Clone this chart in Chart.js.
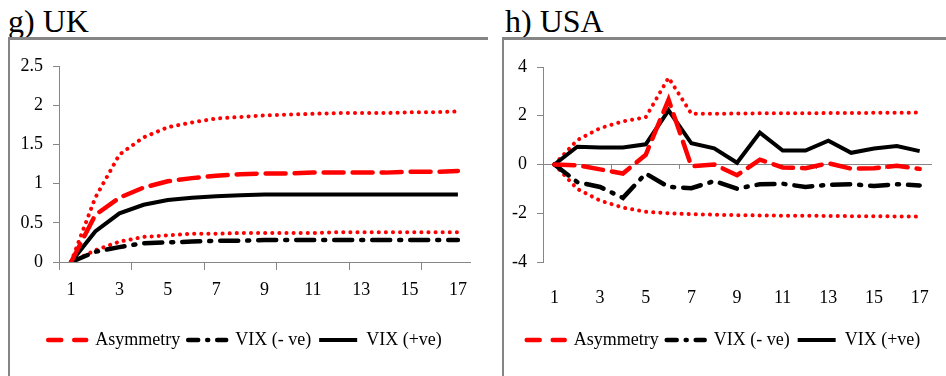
<!DOCTYPE html>
<html>
<head>
<meta charset="utf-8">
<script src="https://cdn.jsdelivr.net/npm/chart.js@4.4.0/dist/chart.umd.min.js"></script>
<style>
    body { margin: 0; width: 946px; height: 376px; background: #fff; overflow: hidden; position: relative; font-family: "Liberation Serif", serif; }
    .title { position: absolute; top: 2px; font-size: 32px; line-height: 38px; color: #000; white-space: nowrap; }
    .rule { position: absolute; background: #858585; z-index: 2; }
    canvas { position: absolute; top: 40px; }
</style>
</head>
<body>
<div class="title" style="left:8px">g) UK</div>
<div class="title" style="left:505px">h) USA</div>
<div class="rule" style="left:8px; top:37px; width:480px; height:3px"></div>
<div class="rule" style="left:8px; top:37px; width:2px; height:339px"></div>
<div class="rule" style="left:502px; top:37px; width:444px; height:3px"></div>
<div class="rule" style="left:502px; top:37px; width:2px; height:339px"></div>
<canvas id="ukChart" width="490" height="336" style="left:0"></canvas>
<canvas id="usaChart" width="456" height="336" style="left:490px"></canvas>
<script>
var periods = ['1', '2', '3', '4', '5', '6', '7', '8', '9', '10', '11', '12', '13', '14', '15', '16', '17'];
var seriesNames = ['Asymmetry', 'VIX (- ve)', 'VIX (+ve)', 'Upper band', 'Lower band'];

// g) UK
var ukAsymmetry = [0, 0.60, 0.82, 0.95, 1.03, 1.07, 1.10, 1.12, 1.13, 1.13, 1.14, 1.14, 1.14, 1.14, 1.15, 1.15, 1.16];
var ukVixNeg = [0, 0.13, 0.19, 0.24, 0.25, 0.26, 0.27, 0.27, 0.28, 0.28, 0.28, 0.28, 0.28, 0.28, 0.28, 0.28, 0.28];
var ukVixPos = [0, 0.39, 0.62, 0.73, 0.79, 0.82, 0.84, 0.85, 0.86, 0.86, 0.86, 0.86, 0.86, 0.86, 0.86, 0.86, 0.86];
var ukUpper = [0, 0.82, 1.37, 1.59, 1.72, 1.78, 1.83, 1.85, 1.87, 1.88, 1.89, 1.90, 1.90, 1.90, 1.91, 1.91, 1.92];
var ukLower = [0, 0.15, 0.26, 0.32, 0.34, 0.36, 0.36, 0.37, 0.37, 0.37, 0.37, 0.38, 0.38, 0.38, 0.38, 0.38, 0.38];

// h) USA
var usaAsymmetry = [0, -0.03, -0.2, -0.37, 0.4, 2.66, -0.07, 0, -0.44, 0.2, -0.12, -0.15, 0.05, -0.17, -0.15, -0.05, -0.18];
var usaVixNeg = [0, -0.72, -0.92, -1.37, -0.37, -0.92, -0.97, -0.68, -0.99, -0.81, -0.79, -0.92, -0.83, -0.81, -0.88, -0.81, -0.86];
var usaVixPos = [0, 0.73, 0.7, 0.7, 0.83, 2.22, 0.87, 0.66, 0.07, 1.31, 0.57, 0.57, 0.98, 0.48, 0.66, 0.76, 0.55];
var usaUpper = [0, 1.0, 1.49, 1.77, 1.94, 3.56, 2.08, 2.08, 2.09, 2.10, 2.10, 2.10, 2.11, 2.11, 2.12, 2.12, 2.13];
var usaLower = [0, -1.0, -1.48, -1.77, -1.94, -2.0, -2.04, -2.06, -2.08, -2.09, -2.1, -2.1, -2.11, -2.12, -2.12, -2.13, -2.14];

var ukTicks = { min: 0, max: 2.5, step: 0.5 };
var usaTicks = { min: -4, max: 4, step: 2 };

Chart.defaults.font.family = '"Liberation Serif", "Times New Roman", serif';
Chart.defaults.font.size = 18;
Chart.defaults.color = '#000';

var axisGrey = '#868686';
// shorter dash patterns for the legend swatches
var legendDashes = [[13, 13], [10, 9, 1, 9], []];

function buildDatasets(asym, vixNeg, vixPos, upper, lower) {
    return [
        { label: seriesNames[0], data: asym, borderColor: '#ff0000', backgroundColor: '#ff0000', borderWidth: 4.5, borderDash: [20, 9], borderCapStyle: 'round' },
        { label: seriesNames[1], data: vixNeg, borderColor: '#000', backgroundColor: '#000', borderWidth: 4.5, borderDash: [18, 9, 2, 9], borderCapStyle: 'round' },
        { label: seriesNames[2], data: vixPos, borderColor: '#000', backgroundColor: '#000', borderWidth: 4 },
        { label: seriesNames[3], data: upper, borderColor: '#ff0000', borderWidth: 4, borderDash: [0.1, 7], borderCapStyle: 'round' },
        { label: seriesNames[4], data: lower, borderColor: '#ff0000', borderWidth: 4, borderDash: [0.1, 7], borderCapStyle: 'round' }
    ];
}

function everyThird(ctx) {
    return (ctx.index !== undefined && ctx.index % 3 === 0) ? axisGrey : 'rgba(0,0,0,0)';
}

function legendItems(chart) {
    return chart.data.datasets.slice(0, 3).map(function (ds, i) {
        return {
            text: ds.label,
            datasetIndex: i,
            fillStyle: ds.borderColor,
            strokeStyle: ds.borderColor,
            lineWidth: ds.borderWidth,
            lineDash: legendDashes[i],
            lineCap: i === 2 ? 'butt' : 'round',
            pointStyle: 'line',
            hidden: false
        };
    });
}

function makeChart(id, datasets, yRange, pad, yWidth, zeroAxis) {
    var scales = {
        x: {
            type: 'category',
            offset: true,
            grid: { display: !zeroAxis, offset: true, drawOnChartArea: false, tickLength: 8, color: everyThird },
            border: { display: !zeroAxis, color: axisGrey, width: 1 },
            ticks: {
                autoSkip: false,
                maxRotation: 0,
                padding: zeroAxis ? 17 : 9,
                callback: function (value, index) { return index % 2 === 0 ? periods[index] : ''; }
            },
            afterFit: function (scale) { scale.height = 61; }
        },
        y: {
            min: yRange.min,
            max: yRange.max,
            ticks: {
                stepSize: yRange.step,
                padding: 10,
                callback: function (value) { return String(Math.round(value * 10) / 10); }
            },
            grid: { drawOnChartArea: false, tickLength: 6, color: axisGrey },
            border: { color: axisGrey, width: 1 },
            afterFit: function (scale) { scale.width = yWidth; }
        }
    };
    if (zeroAxis) {
        scales.x2 = {
            type: 'category',
            position: { y: 0 },
            offset: true,
            grid: { offset: true, drawOnChartArea: false, tickLength: 4, color: everyThird },
            border: { color: axisGrey, width: 1 },
            ticks: { display: false }
        };
    }
    return new Chart(document.getElementById(id).getContext('2d'), {
        type: 'line',
        data: { labels: periods, datasets: datasets },
        options: {
            responsive: false,
            animation: false,
            layout: { padding: pad },
            elements: { point: { radius: 0 }, line: { tension: 0 } },
            scales: scales,
            plugins: {
                tooltip: { enabled: false },
                legend: {
                    position: 'bottom',
                    labels: {
                        usePointStyle: true,
                        pointStyle: 'line',
                        pointStyleWidth: 38,
                        padding: 8,
                        font: { size: 18 },
                        generateLabels: legendItems
                    }
                }
            }
        }
    });
}

makeChart('ukChart', buildDatasets(ukAsymmetry, ukVixNeg, ukVixPos, ukUpper, ukLower), ukTicks,
    { left: 20, right: 20, top: 26, bottom: 17 }, 39, false);
makeChart('usaChart', buildDatasets(usaAsymmetry, usaVixNeg, usaVixPos, usaUpper, usaLower), usaTicks,
    { left: 22, right: 11, top: 27, bottom: 17 }, 31, true);
</script>
</body>
</html>
